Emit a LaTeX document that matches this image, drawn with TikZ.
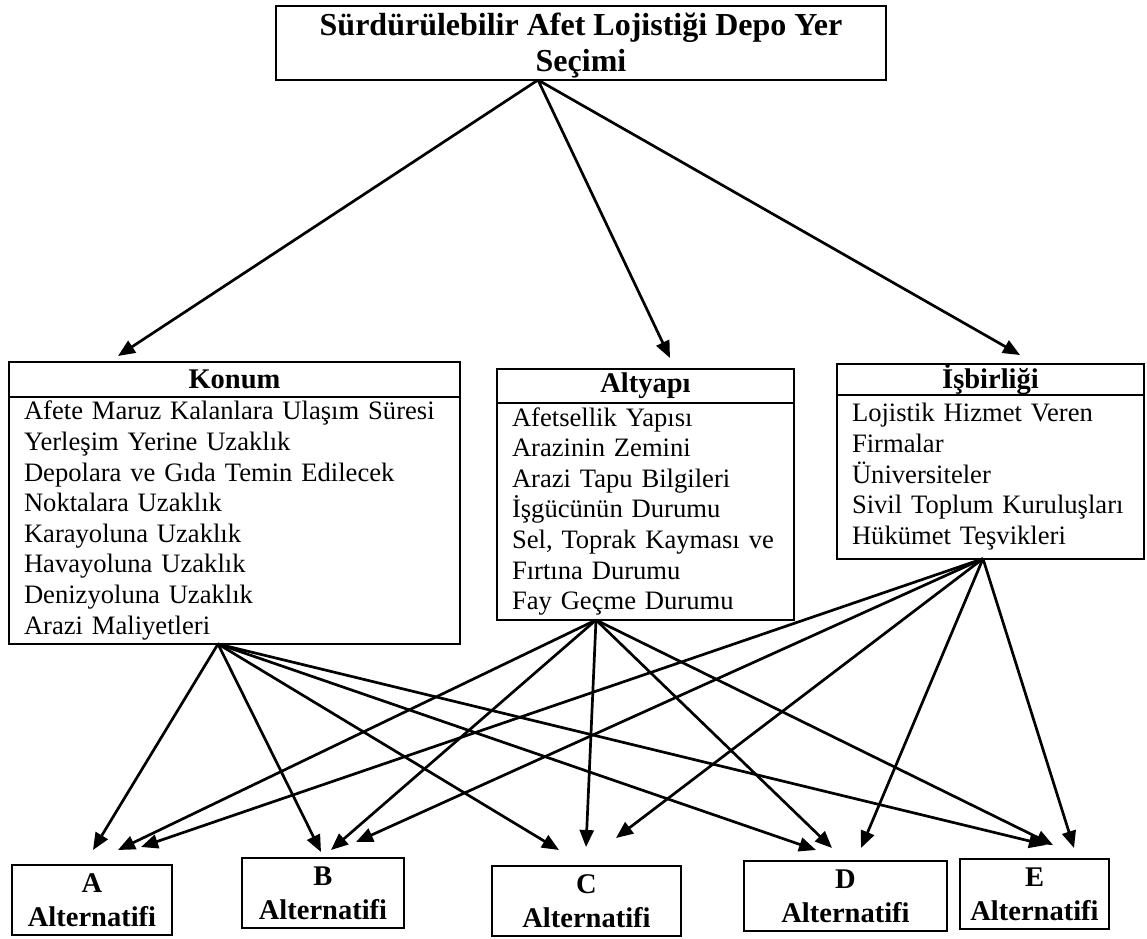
\documentclass[tikz,border=0pt]{standalone}
\usepackage{fontspec}
\setmainfont{Liberation Serif}
\usetikzlibrary{arrows.meta,positioning}

\begin{document}
\begin{tikzpicture}[x=1pt,y=1pt,
    box/.style={draw,line width=2.3pt,outer sep=0pt},
    head/.style={box,font=\fontsize{28.5}{32}\selectfont\bfseries,inner sep=0pt},
    list/.style={box,font=\fontsize{26.6}{30.6}\selectfont,align=left,inner xsep=15pt,inner ysep=0pt},
    alt/.style={box,font=\fontsize{28.5}{34}\selectfont\bfseries,align=center,inner sep=0pt,minimum height=70pt,anchor=north west},
    link/.style={->,line width=2.7pt},
    >={Triangle[length=17pt,width=14pt]}]
  \useasboundingbox (0,0) rectangle (1147,938);

  % Draw goal
  \node[box,anchor=north west,minimum width=610pt,minimum height=74pt] (goal) at (276,932) {};
  \node[align=center,inner sep=0pt,font=\fontsize{32}{36}\selectfont\bfseries] (goaltext)
        at ([yshift=-3pt]goal.center) {Sürdürülebilir Afet Lojistiği Depo Yer\\Seçimi};

  % Draw criteria
  \node[head,anchor=north west,minimum width=451pt,minimum height=35pt] (konumhead) at (9,576) {Konum};
  \node[list,below=0pt of konumhead,text width=421pt,minimum height=247pt] (konum)
        {Afete Maruz Kalanlara Ulaşım Süresi\\Yerleşim Yerine Uzaklık\\Depolara ve Gıda Temin Edilecek\\
         Noktalara Uzaklık\\Karayoluna Uzaklık\\Havayoluna Uzaklık\\Denizyoluna Uzaklık\\Arazi Maliyetleri};

  \node[head,anchor=north west,minimum width=297pt,minimum height=34pt] (altyapihead) at (497,569) {Altyapı};
  \node[list,below=0pt of altyapihead,text width=267pt,minimum height=217pt] (altyapi)
        {Afetsellik Yapısı\\Arazinin Zemini\\Arazi Tapu Bilgileri\\İşgücünün Durumu\\
         Sel, Toprak Kayması ve\\Fırtına Durumu\\Fay Geçme Durumu};

  \node[head,anchor=north west,minimum width=307pt,minimum height=27pt] (isbhead) at (837,574) {İşbirliği};
  \node[list,below=0pt of isbhead,text width=277pt,minimum height=164pt] (isb)
        {Lojistik Hizmet Veren\\Firmalar\\Üniversiteler\\Sivil Toplum Kuruluşları\\Hükümet Teşvikleri};

  % Draw alternatives
  \node[alt,minimum width=160pt] (altA) at (12,73) {A\\Alternatifi};
  \node[alt,minimum width=162pt] (altB) at (242,80) {B\\Alternatifi};
  \node[alt,minimum width=189pt] (altC) at (492,72) {C\\Alternatifi};
  \node[alt,minimum width=203pt] (altD) at (744,77) {D\\Alternatifi};
  \node[alt,minimum width=149pt] (altE) at (960,79) {E\\Alternatifi};

  \coordinate (goalout) at ([xshift=-43pt]goal.south);
  \coordinate (konumout) at ([xshift=-16.5pt]konum.south);
  \coordinate (altyapiout) at ([xshift=-49.5pt]altyapi.south);
  \coordinate (isbout) at ([xshift=-7.5pt]isb.south);

  % Draw goal to criteria
  \draw[link] (goalout) -- ([xshift=-116.5pt,yshift=6pt]konumhead.north);
  \draw[link] (goalout) -- ([xshift=24.5pt,yshift=11pt]altyapihead.north);
  \draw[link] (goalout) -- ([xshift=29.5pt,yshift=9pt]isbhead.north);

  % Draw criteria to alternatives
  \foreach \src/\dst/\dx/\dy in {konumout/altA/1/15, altyapiout/altA/26/15, isbout/altA/49/18,
      konumout/altB/-2/6, altyapiout/altB/8/8, isbout/altB/33/16,
      konumout/altC/-27.5/16, altyapiout/altC/-0.5/19, isbout/altC/29.5/28,
      konumout/altD/-29.5/11, altyapiout/altD/-13.5/13, isbout/altD/15.5/13,
      konumout/altE/11.5/14, altyapiout/altE/18.5/14, isbout/altE/39.5/11}
    \draw[link] (\src) -- ([xshift=\dx pt,yshift=\dy pt]\dst.north);
\end{tikzpicture}
\end{document}
